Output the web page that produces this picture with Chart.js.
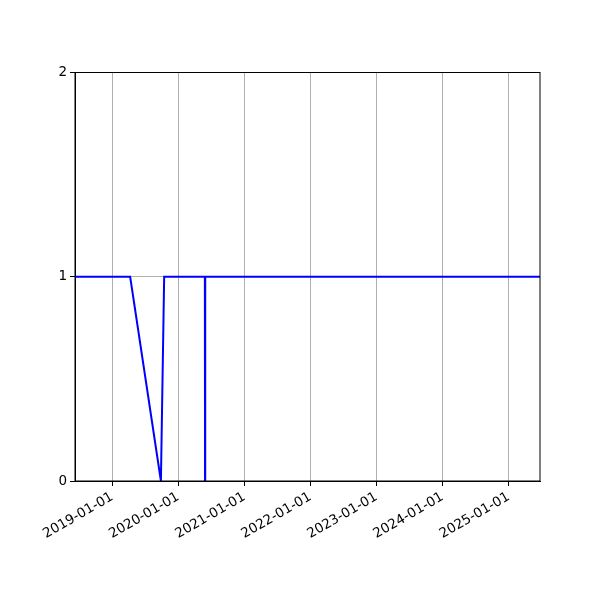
<!DOCTYPE html>
<html>
<head>
<meta charset="utf-8">
<script src="https://cdn.jsdelivr.net/npm/chart.js@4"></script>
<style>
  html, body { margin: 0; padding: 0; background: #ffffff; }
  #wrap { width: 600px; height: 600px; }
</style>
</head>
<body>
<div id="wrap"><canvas id="chart" width="600" height="600"></canvas></div>
<script>
/* data */
const dates = ['2018-06-09', '2019-04-10', '2019-09-27', '2019-10-15', '2020-05-27', '2020-05-28', '2020-05-29', '2025-06-23'];
const values = [1, 1, 0, 1, 1, 0, 1, 1];
const tickYears = [2019, 2020, 2021, 2022, 2023, 2024, 2025];
const yTicks = [0, 1, 2];
const xMin = '2018-06-09';
const xMax = '2025-06-23';

const LINE_BLUE = '#0000ff';
const GRID_GREY = '#b0b0b0';
const FONT = { family: 'DejaVu Sans', size: 13.5 };

function toMs(s) {
    const p = s.split('-').map(Number);
    return Date.UTC(p[0], p[1] - 1, p[2]);
}

function fmtDate(ms) {
    const d = new Date(ms);
    const mm = String(d.getUTCMonth() + 1).padStart(2, '0');
    const dd = String(d.getUTCDate()).padStart(2, '0');
    return d.getUTCFullYear() + '-' + mm + '-' + dd;
}

// full box round the plot area, like matplotlib spines
const frame = {
    id: 'frame',
    afterDatasetsDraw(chart) {
        const a = chart.chartArea;
        const ctx = chart.ctx;
        ctx.save();
        ctx.strokeStyle = '#000000';
        ctx.lineWidth = 1;
        ctx.strokeRect(a.left, a.top, a.right - a.left, a.bottom - a.top);
        ctx.restore();
    }
};

const ctx = document.getElementById('chart').getContext('2d');
new Chart(ctx, {
    type: 'line',
    data: {
        datasets: [{
            data: dates.map((d, i) => ({ x: toMs(d), y: values[i] })),
            borderColor: LINE_BLUE,
            borderWidth: 2,
            pointRadius: 0,
            tension: 0,
            fill: false
        }]
    },
    options: {
        responsive: false,
        animation: false,
        devicePixelRatio: 1,
        layout: { padding: { top: 72.5, right: 60, left: 0, bottom: 0 } },
        plugins: { legend: { display: false }, tooltip: { enabled: false } },
        scales: {
            x: {
                type: 'linear',
                min: toMs(xMin),
                max: toMs(xMax),
                afterBuildTicks: (scale) => {
                    scale.ticks = tickYears.map(y => ({ value: Date.UTC(y, 0, 1) }));
                },
                afterFit: (scale) => { scale.height = 119; },
                ticks: {
                    autoSkip: false,
                    minRotation: 30,
                    maxRotation: 30,
                    color: '#000000',
                    font: FONT,
                    padding: 3,
                    callback: (v) => fmtDate(v)
                },
                grid: { color: GRID_GREY, tickColor: '#000000', tickLength: 5, lineWidth: 1 },
                border: { color: '#000000', width: 1 }
            },
            y: {
                min: 0,
                max: 2,
                afterBuildTicks: (scale) => {
                    scale.ticks = yTicks.map(v => ({ value: v }));
                },
                afterFit: (scale) => { scale.width = 75; },
                ticks: { color: '#000000', font: FONT, padding: 3 },
                grid: { color: GRID_GREY, tickColor: '#000000', tickLength: 5, lineWidth: 1 },
                border: { color: '#000000', width: 1 }
            }
        }
    },
    plugins: [frame]
});
</script>
</body>
</html>
